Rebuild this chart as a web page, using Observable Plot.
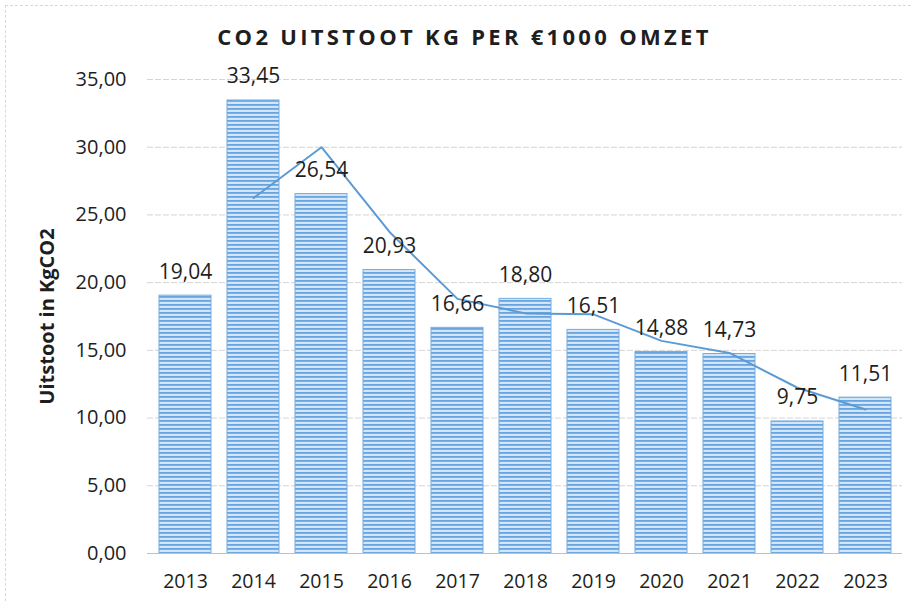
<!DOCTYPE html>
<html>
<head>
<meta charset="utf-8">
<script src="https://cdn.jsdelivr.net/npm/d3@7"></script>
<script src="https://cdn.jsdelivr.net/npm/@observablehq/plot@0.6"></script>
<style>
  html, body { margin: 0; padding: 0; background: #fff; }
  #wrap { position: relative; width: 911px; height: 602px; overflow: hidden; font-family: "Open Sans", sans-serif; }
  #frame { position: absolute; left: 5px; top: 5px; width: 920px; height: 620px; border-left: 1px dashed #d8d8d8; border-top: 1px dashed #d8d8d8; }
  #title { position: absolute; left: 9px; top: 0; width: 911px; height: 60px; text-align: center; line-height: 72px; font-weight: 700; font-size: 22px; letter-spacing: 3.3px; color: #1e1e1e; }
  #chart { position: absolute; left: 0; top: 60px; }
</style>
</head>
<body>
<div id="wrap">
  <div id="frame"></div>
  <div id="title">CO2 UITSTOOT KG PER €1000 OMZET</div>
  <div id="chart"></div>
</div>
<script>
const years = ["2013","2014","2015","2016","2017","2018","2019","2020","2021","2022","2023"];
const values = [19.04, 33.45, 26.54, 20.93, 16.66, 18.80, 16.51, 14.88, 14.73, 9.75, 11.51];
const trendYears = ["2014","2015","2016","2017","2018","2019","2020","2021","2022","2023"];
const trendValues = [26.25, 30.00, 23.74, 18.80, 17.73, 17.66, 15.70, 14.81, 12.24, 10.63];
const yTicks = [0, 5, 10, 15, 20, 25, 30, 35];
const yLabel = "Uitstoot in KgCO2";

const bars = years.map((y, i) => ({year: y, value: values[i]}));
const trend = trendYears.map((y, i) => ({year: y, value: trendValues[i]}));
const fmt = v => v.toFixed(2).replace(".", ",");

const chart = Plot.plot({
  width: 911,
  height: 542,
  marginTop: 19,
  marginBottom: 49,
  marginLeft: 147,
  marginRight: 9,
  style: {fontFamily: "Open Sans, sans-serif", fontSize: "19px", color: "#1e1e1e", background: "transparent"},
  x: {domain: years, paddingInner: 0.24, paddingOuter: 0.12, label: null},
  y: {domain: [0, 35], ticks: yTicks, label: null},
  marks: [
    Plot.gridY(yTicks, {stroke: "#d4d4d4", strokeOpacity: 1, strokeWidth: 1, strokeDasharray: "6,2"}),
    Plot.axisY({ticks: yTicks, tickSize: 0, tickPadding: 21, tickFormat: fmt, fontSize: 20, fill: "#1e1e1e", label: null}),
    Plot.axisX({tickSize: 0, tickPadding: 21, fontSize: 19.5, fill: "#1e1e1e", label: null}),
    Plot.barY(bars, {x: "year", y: "value", fill: "url(#stripes)", stroke: "#74ade4", strokeWidth: 1}),
    Plot.ruleY([0], {stroke: "#bfbfbf", strokeWidth: 1.2}),
    Plot.line(trend, {x: "year", y: "value", stroke: "#5b9bd5", strokeWidth: 2}),
    Plot.text(bars, {x: "year", y: "value", text: d => fmt(d.value), lineAnchor: "bottom", dy: -17, fontSize: 21, fill: "#1e1e1e"}),
    Plot.text([yLabel], {frameAnchor: "left", textAnchor: "middle", rotate: -90, dx: -100, fontSize: 20, fontWeight: "bold", fill: "#1e1e1e"})
  ]
});

const ns = "http://www.w3.org/2000/svg";
const defs = document.createElementNS(ns, "defs");
defs.innerHTML = `<pattern id="stripes" patternUnits="userSpaceOnUse" width="8" height="4">
  <rect x="0" y="0" width="8" height="4" fill="#d3e5f7"></rect>
  <rect x="0" y="0" width="8" height="1.8" fill="#68a5e0"></rect>
</pattern>`;
chart.insertBefore(defs, chart.firstChild);
document.getElementById("chart").appendChild(chart);
</script>
</body>
</html>
